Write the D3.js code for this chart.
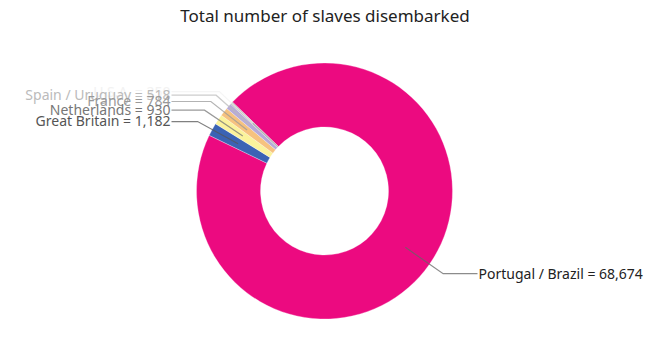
<!DOCTYPE html>
<html>
<head>
<meta charset="utf-8">
<script src="https://cdn.jsdelivr.net/npm/d3@7"></script>
<style>
  body { margin: 0; background: #fff; }
  text { font-family: "Segoe UI", "Noto Sans", sans-serif; }
</style>
</head>
<body>
<div id="chart"></div>
<script>
// --- données ---
const pays = ["Portugal / Brazil", "Great Britain", "Netherlands", "France", "Spain / Uruguay", "U.S.A."];
const valeurs = [68674, 1182, 930, 784, 518, 250];
const couleurs = ["#ec0a80", "#3b63b4", "#fbf39c", "#f6c27f", "#b7a9d8", "#b4b4b4"];
const couleursTexte = ["#333", "#555", "#777", "#999", "#bbb", "#f2f2f2"];

const largeur = 650, hauteur = 339;
const cx = 324.5, cy = 191;
const rayon = 128, rayonInt = 64;

const svg = d3.select("#chart").append("svg")
    .attr("width", largeur)
    .attr("height", hauteur);

// titre
svg.append("text")
    .attr("x", largeur / 2)
    .attr("y", 22)
    .attr("text-anchor", "middle")
    .attr("font-size", 17)
    .attr("fill", "#222")
    .text("Total number of slaves disembarked");

const debut = -46 * Math.PI / 180;
const pie = d3.pie().sort(null).startAngle(debut).endAngle(debut + 2 * Math.PI);
const arcs = pie(valeurs);

const arc = d3.arc().innerRadius(rayonInt).outerRadius(rayon);

const g = svg.append("g").attr("transform", `translate(${cx},${cy})`);

g.selectAll("path.part")
    .data(arcs)
    .join("path")
    .attr("class", "part")
    .attr("d", arc)
    .attr("fill", (d, i) => couleurs[i])
    .attr("stroke", "#fff")
    .attr("stroke-width", 0.3);

// lignes de rappel + étiquettes
const point = (a, r) => [r * Math.sin(a), -r * Math.cos(a)];
const colGauche = -153, colDroite = 153;

arcs.forEach((d, i) => {
    // on dessine la dernière étiquette en premier pour que les autres passent dessus
});
const ordre = d3.range(arcs.length).reverse();
ordre.forEach(i => {
    const d = arcs[i];
    const milieu = (d.startAngle + d.endAngle) / 2;
    const p1 = point(milieu, rayon * 0.77);
    const p2 = point(milieu, rayon * 1.13);
    const droite = p2[0] > 0;
    const xFin = droite ? colDroite : colGauche;
    g.append("polyline")
        .attr("points", [p1, p2, [xFin, p2[1]]].map(p => p.join(",")).join(" "))
        .attr("fill", "none")
        .attr("stroke", i === 0 ? "#666" : couleursTexte[i])
        .attr("stroke-opacity", 0.75)
        .attr("stroke-width", 1.2);
    g.append("text")
        .attr("x", droite ? xFin + 1 : xFin - 1)
        .attr("y", p2[1])
        .attr("dy", "0.35em")
        .attr("text-anchor", droite ? "start" : "end")
        .attr("font-size", 14)
        .attr("fill", i === 0 ? "#222" : couleursTexte[i])
        .text(pays[i] + " = " + d3.format(",")(valeurs[i]));
});
</script>
</body>
</html>
